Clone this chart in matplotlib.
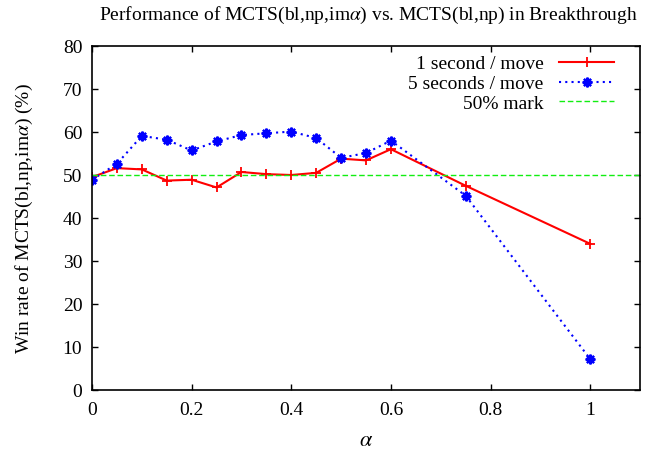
import matplotlib
matplotlib.use("Agg")
import matplotlib.pyplot as plt

alpha = [0, 0.05, 0.1, 0.15, 0.2, 0.25, 0.3, 0.35, 0.4, 0.45, 0.5, 0.55, 0.6, 0.75, 1.0]
one_sec = [49.5, 51.6, 51.3, 48.7, 48.9, 47.1, 50.7, 50.2, 50.0, 50.5, 53.8, 53.4, 56.0, 47.5, 34.0]
five_sec = [48.9, 52.6, 59.1, 58.2, 55.7, 57.8, 59.3, 59.7, 60.1, 58.6, 54.0, 55.1, 58.0, 45.2, 7.2]
mark50 = 50

plt.rcParams['font.family'] = ['Liberation Serif', 'DejaVu Serif']
plt.rcParams['mathtext.fontset'] = 'stix'

fig = plt.figure(figsize=(6.68, 4.52), dpi=100)
ax = fig.add_axes([92/668, 1-391/452, (640-92)/668, (391-47)/452])

ax.plot(alpha, one_sec, color='#ff0000', lw=1.5, marker='+', ms=7, mew=1.3,
        label='1 second / move')
ax.plot(alpha, five_sec, color='#0000ff', lw=1.5, ls=(0, (1, 2)), marker=(8, 2, 0),
        ms=7, mew=1.6, label='5 seconds / move')
ax.axhline(mark50, color='#11ee11', lw=1.0, ls=(0, (4, 2)), label='50% mark')

ax.set_xlim(0, 1.1)
ax.set_ylim(0, 80)
ax.set_xticks([0, 0.2, 0.4, 0.6, 0.8, 1.0])
ax.set_xticklabels(['0', '0.2', '0.4', '0.6', '0.8', '1'])
ax.set_yticks(range(0, 81, 10))
ax.tick_params(direction='in', top=True, right=True, length=4.5, width=1, labelsize=14)
ax.tick_params(axis='x', pad=8)
ax.tick_params(axis='y', pad=7)
for s in ax.spines.values():
    s.set_linewidth(1.2)

ax.set_xlabel(r'$\alpha$', fontsize=16, labelpad=9)
ax.set_ylabel(r'Win rate of MCTS(bl,np,im$\alpha$) (%)', fontsize=14, labelpad=20)
fig.text(368/668, 1-15/452, r'Performance of MCTS(bl,np,im$\alpha$) vs. MCTS(bl,np) in Breakthrough',
         ha='center', va='center', fontsize=14)

leg = ax.legend(loc='upper right', markerfirst=False, frameon=False, fontsize=14,
                handlelength=2.85, labelspacing=0.12, borderaxespad=0.15, borderpad=0.3,
                handletextpad=0.8, bbox_to_anchor=(1 - 17/548, 1))
for t in leg.get_texts():
    t.set_ha('right')
leg._legend_box.align = 'right'

fig.savefig('out.png', dpi=100)
